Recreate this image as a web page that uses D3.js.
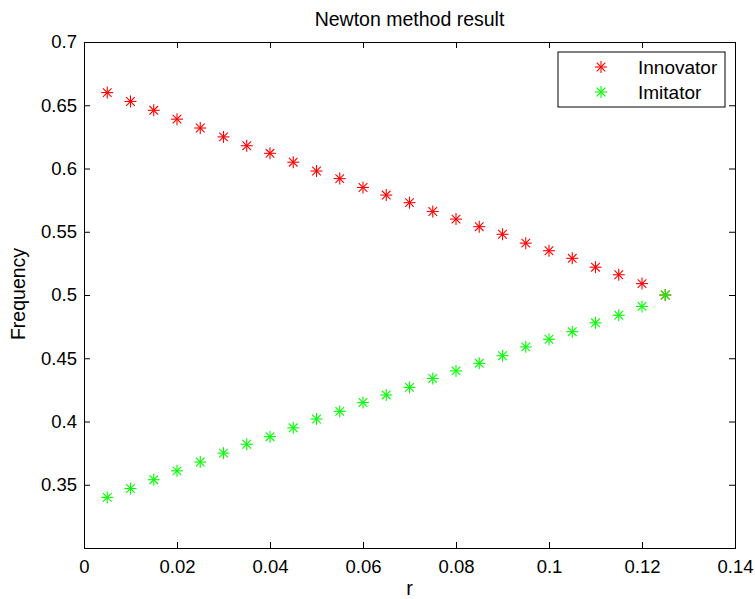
<!DOCTYPE html>
<html>
<head>
<meta charset="utf-8">
<script src="https://cdn.jsdelivr.net/npm/d3@7"></script>
<style>
  body { margin: 0; background: #fff; }
  svg text { font-family: "Liberation Sans", Arial, Helvetica, sans-serif; fill: #000; }
</style>
</head>
<body>
<div id="chart"></div>
<script>
const rValues = [0.005, 0.01, 0.015, 0.02, 0.025, 0.03, 0.035, 0.04, 0.045, 0.05,
  0.055, 0.06, 0.065, 0.07, 0.075, 0.08, 0.085, 0.09, 0.095, 0.1,
  0.105, 0.11, 0.115, 0.12, 0.125];
const innovator = [0.660, 0.653, 0.646, 0.639, 0.632, 0.625, 0.618, 0.612, 0.605, 0.598,
  0.592, 0.585, 0.579, 0.573, 0.566, 0.560, 0.554, 0.548, 0.541, 0.535,
  0.529, 0.522, 0.516, 0.509, 0.500];
const imitator = [0.340, 0.347, 0.354, 0.361, 0.368, 0.375, 0.382, 0.388, 0.395, 0.402,
  0.408, 0.415, 0.421, 0.427, 0.434, 0.440, 0.446, 0.452, 0.459, 0.465,
  0.471, 0.478, 0.484, 0.491, 0.500];
const xTicks = [0, 0.02, 0.04, 0.06, 0.08, 0.1, 0.12, 0.14];
const yTicks = [0.35, 0.4, 0.45, 0.5, 0.55, 0.6, 0.65, 0.7];
const seriesNames = ['Innovator', 'Imitator'];
const seriesColors = ['#ff0000', '#00ff00'];

const width = 755, height = 599;
const margin = { left: 84, top: 42, right: 20, bottom: 51 };
const w = width - margin.left - margin.right;
const h = height - margin.top - margin.bottom;

const svg = d3.select('#chart').append('svg')
    .attr('width', width)
    .attr('height', height);

const g = svg.append('g')
    .attr('transform', 'translate(' + margin.left + ',' + margin.top + ')');

const x = d3.scaleLinear().domain([0, 0.14]).range([0, w]);
const y = d3.scaleLinear().domain([0.3, 0.7]).range([h, 0]);

const tickLen = 6;
const fmt = d => String(+d.toFixed(2));

// bottom + top axes (ticks inward)
g.append('g')
    .attr('class', 'x-axis')
    .attr('transform', 'translate(0,' + h + ')')
    .call(d3.axisBottom(x).tickValues(xTicks).tickSize(-tickLen).tickPadding(12).tickFormat(fmt));
g.append('g')
    .call(d3.axisTop(x).tickValues(xTicks).tickSize(-tickLen).tickFormat(''));

// left + right axes
g.append('g')
    .attr('class', 'y-axis')
    .call(d3.axisLeft(y).tickValues(yTicks).tickSize(-tickLen).tickPadding(7).tickFormat(fmt));
g.append('g')
    .attr('transform', 'translate(' + w + ',0)')
    .call(d3.axisRight(y).tickValues(yTicks).tickSize(-tickLen).tickFormat(''));

g.selectAll('.domain').attr('stroke', '#000').attr('stroke-width', 1);
g.selectAll('.tick line').attr('stroke', '#000');
g.selectAll('.tick text').attr('font-size', 18.5).attr('font-family', '"Liberation Sans", Arial, sans-serif');
g.select('.x-axis').selectAll('.tick text').attr('dy', '0.71em');

// asterisk marker
function asterisk(sel, color) {
  const r = 6, d = r * 0.72;
  sel.append('line').attr('x1', -r).attr('x2', r).attr('y1', 0).attr('y2', 0);
  sel.append('line').attr('x1', 0).attr('x2', 0).attr('y1', -r).attr('y2', r);
  sel.append('line').attr('x1', -d).attr('x2', d).attr('y1', -d).attr('y2', d);
  sel.append('line').attr('x1', -d).attr('x2', d).attr('y1', d).attr('y2', -d);
  sel.selectAll('line').attr('stroke', color).attr('stroke-width', 1.1);
}

[innovator, imitator].forEach((vals, i) => {
  const pts = g.append('g').selectAll('g.pt' + i)
      .data(rValues.map((r, j) => ({ x: r, y: vals[j] })))
      .enter().append('g')
      .attr('class', 'pt' + i)
      .attr('transform', d => 'translate(' + x(d.x) + ',' + y(d.y) + ')');
  pts.each(function() { asterisk(d3.select(this), seriesColors[i]); });
});

// title and axis labels
svg.append('text')
    .attr('x', margin.left + w / 2).attr('y', 26)
    .attr('text-anchor', 'middle').attr('font-size', 19.5)
    .text('Newton method result');
svg.append('text')
    .attr('x', margin.left + w / 2).attr('y', 595)
    .attr('text-anchor', 'middle').attr('font-size', 20)
    .text('r');
svg.append('text')
    .attr('transform', 'translate(25,294) rotate(-90)')
    .attr('text-anchor', 'middle').attr('font-size', 19.5)
    .text('Frequency');

// legend
const lg = svg.append('g').attr('transform', 'translate(558,52)');
lg.append('rect')
    .attr('width', 167).attr('height', 55)
    .attr('fill', '#fff').attr('stroke', '#000');
seriesNames.forEach((name, i) => {
  const row = lg.append('g').attr('transform', 'translate(43,' + (15 + i * 25) + ')');
  asterisk(row, seriesColors[i]);
  row.append('text').attr('x', 37).attr('y', 0).attr('dy', '0.35em')
      .attr('font-size', 19).text(name);
});
</script>
</body>
</html>
